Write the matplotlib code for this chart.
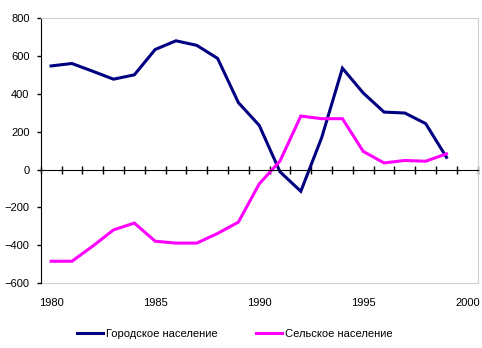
import numpy as np
import matplotlib
matplotlib.use("Agg")
import matplotlib.pyplot as plt

plt.rcParams["font.family"] = ["Liberation Sans", "DejaVu Sans"]
plt.rcParams["font.size"] = 8

# Data (net change, thousands)
years = list(range(1980, 2001))
urban = [548, 561, 520, 478, 501, 635, 681, 657, 588, 354, 234, -12, -115, 168, 536,
         405, 304, 299, 243, 65]
rural = [-485, -485, -405, -319, -283, -379, -389, -389, -338, -278, -76, 45, 283,
         269, 269, 96, 35, 48, 44, 83]
urban_label = "Городское население"
rural_label = "Сельское население"
x_labels = ["1980", "1985", "1990", "1995", "2000"]
y_ticks = [-600, -400, -200, 0, 200, 400, 600, 800]

W, H = 482, 348
fig = plt.figure(figsize=(W / 100, H / 100), dpi=100)
left, right, top, bottom = 40.7, 477.7, 18.3, 283.0
ax = fig.add_axes([left / W, 1 - bottom / H, (right - left) / W, (bottom - top) / H])

pos = np.arange(len(years))
ax.plot(pos[:len(urban)], urban, color="#000080", lw=2.2, label=urban_label,
        solid_joinstyle="miter")
ax.plot(pos[:len(rural)], rural, color="#FF00FF", lw=2.2, label=rural_label,
        solid_joinstyle="miter")

ax.set_xlim(-0.5, len(years) - 0.5)
ax.set_ylim(-600, 800)
ax.set_yticks(y_ticks)
ax.tick_params(axis="y", direction="out", length=3, width=1, pad=5, color="black")

# horizontal axis crosses at zero, tick marks between categories
ax.spines["bottom"].set_position(("data", 0))
ax.spines["bottom"].set_color("black")
ax.spines["left"].set_color("black")
ax.spines["top"].set_color("#d0d0d0")
ax.spines["right"].set_color("#d0d0d0")
ax.set_xticks(np.arange(-0.5, len(years), 1))
ax.tick_params(axis="x", direction="inout", length=6, width=1, labelbottom=False)

sec = ax.secondary_xaxis("bottom")
sec.set_xticks([years.index(int(s)) for s in x_labels])
sec.set_xticklabels(x_labels)
sec.tick_params(length=0, pad=11)
sec.spines["bottom"].set_color("#d0d0d0")

fig.legend(loc="lower left", bbox_to_anchor=(77 / W, 1 - 339 / H), ncol=2,
           frameon=False, handlelength=2.3, handletextpad=0.3, columnspacing=3.5,
           borderaxespad=0, borderpad=0)

fig.savefig("out.png", dpi=100)
